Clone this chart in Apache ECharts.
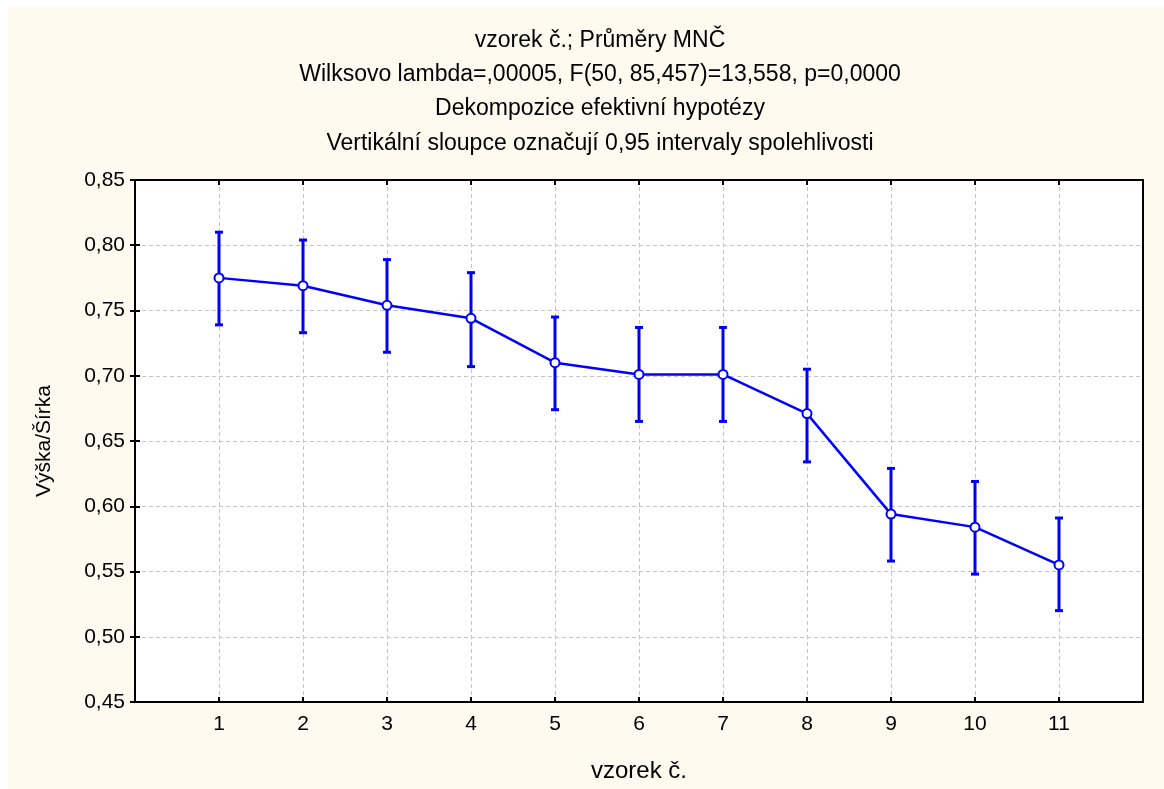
<!DOCTYPE html>
<html>
<head>
<meta charset="utf-8">
<script src="https://cdn.jsdelivr.net/npm/echarts@6/dist/echarts.min.js"></script>
<style>
  html, body { margin: 0; padding: 0; background: #fff; overflow: hidden; }
  #chart { position: absolute; left: 8px; top: 7px; width: 1156px; height: 782px; background: #fffaf0; }
</style>
</head>
<body>
<div id="chart"></div>
<script>
// vzorek č. (sample number)
var samples = [1, 2, 3, 4, 5, 6, 7, 8, 9, 10, 11];
// LS means of Výška/Šírka
var means = [0.775, 0.769, 0.754, 0.744, 0.710, 0.701, 0.701, 0.671, 0.594, 0.584, 0.555];
// 0.95 confidence limits
var lower = [0.739, 0.733, 0.718, 0.707, 0.674, 0.665, 0.665, 0.634, 0.558, 0.548, 0.520];
var upper = [0.810, 0.804, 0.789, 0.779, 0.745, 0.737, 0.737, 0.705, 0.629, 0.619, 0.591];

var titleLines = [
  "vzorek č.; Průměry MNČ",
  "Wilksovo lambda=,00005, F(50, 85,457)=13,558, p=0,0000",
  "Dekompozice efektivní hypotézy",
  "Vertikální sloupce označují 0,95 intervaly spolehlivosti"
];

var font = "'Liberation Sans', Arial, sans-serif";
var blue = "#0000ff";

var meanData = samples.map(function (s, i) { return [s, means[i]]; });
var errData = samples.map(function (s, i) { return [s, lower[i], upper[i]]; });

function yLabel(v) {
  return v.toFixed(2).replace(".", ",");
}

var myChart = echarts.init(document.getElementById("chart"));
var option = {
  animation: false,
  title: {
    text: titleLines.join("\n"),
    left: 592,
    top: 16,
    padding: 0,
    textAlign: "center",
    textStyle: {
      fontFamily: font,
      fontSize: 23,
      fontWeight: "normal",
      color: "#000",
      lineHeight: 34.4
    }
  },
  grid: {
    left: 127,
    right: 21,
    top: 173,
    bottom: 87,
    show: true,
    backgroundColor: "#fff",
    borderColor: "#000",
    borderWidth: 2
  },
  xAxis: [
    {
      type: "value",
      min: 0,
      max: 12,
      interval: 1,
      position: "bottom",
      name: "vzorek č.",
      nameLocation: "middle",
      nameGap: 57,
      nameTextStyle: { fontFamily: font, fontSize: 24, color: "#000" },
      axisLine: { lineStyle: { color: "#000", width: 2 } },
      axisTick: { inside: true, length: 5, lineStyle: { color: "#000", width: 2 } },
      axisLabel: {
        margin: 12,
        fontFamily: font,
        fontSize: 21,
        color: "#000",
        formatter: function (v) { return v >= 1 && v <= 11 ? String(v) : ""; }
      },
      splitLine: {
        show: true,
        showMinLine: false,
        showMaxLine: false,
        lineStyle: { color: "#c4c4c4", type: [4, 3], width: 1 }
      }
    },
    {
      type: "value",
      min: 0,
      max: 12,
      interval: 1,
      position: "top",
      axisLine: { lineStyle: { color: "#000", width: 2 } },
      axisTick: { inside: true, length: 5, lineStyle: { color: "#000", width: 2 } },
      axisLabel: { show: false },
      splitLine: { show: false }
    }
  ],
  yAxis: [
    {
      type: "value",
      min: 0.45,
      max: 0.85,
      interval: 0.05,
      position: "left",
      name: "Výška/Šírka",
      nameLocation: "middle",
      nameGap: 80,
      nameRotate: 90,
      nameTextStyle: { fontFamily: font, fontSize: 21, color: "#000" },
      axisLine: { lineStyle: { color: "#000", width: 2 } },
      axisTick: { inside: true, length: 5, lineStyle: { color: "#000", width: 2 } },
      axisLabel: {
        margin: 10,
        fontFamily: font,
        fontSize: 21,
        color: "#000",
        formatter: yLabel
      },
      splitLine: {
        show: true,
        showMinLine: false,
        showMaxLine: false,
        lineStyle: { color: "#c4c4c4", type: [4, 3], width: 1 }
      }
    },
    {
      type: "value",
      min: 0.45,
      max: 0.85,
      interval: 0.05,
      position: "right",
      axisLine: { lineStyle: { color: "#000", width: 2 } },
      axisTick: { inside: true, length: 5, lineStyle: { color: "#000", width: 2 } },
      axisLabel: { show: false },
      splitLine: { show: false }
    }
  ],
  series: [
    {
      name: "interval",
      type: "custom",
      xAxisIndex: 0,
      yAxisIndex: 0,
      z: 2,
      data: errData,
      renderItem: function (params, api) {
        var x = api.value(0);
        var lo = api.coord([x, api.value(1)]);
        var hi = api.coord([x, api.value(2)]);
        var cap = 4;
        var style = { stroke: blue, lineWidth: 3 };
        return {
          type: "group",
          children: [
            { type: "line", shape: { x1: lo[0], y1: lo[1], x2: hi[0], y2: hi[1] }, style: style },
            { type: "line", shape: { x1: hi[0] - cap, y1: hi[1], x2: hi[0] + cap, y2: hi[1] }, style: style },
            { type: "line", shape: { x1: lo[0] - cap, y1: lo[1], x2: lo[0] + cap, y2: lo[1] }, style: style }
          ]
        };
      }
    },
    {
      name: "průměr",
      type: "line",
      xAxisIndex: 0,
      yAxisIndex: 0,
      z: 3,
      data: meanData,
      symbol: "emptyCircle",
      symbolSize: 9,
      lineStyle: { color: blue, width: 2.5 },
      itemStyle: { color: blue, borderWidth: 2 }
    }
  ]
};
myChart.setOption(option);
</script>
</body>
</html>
